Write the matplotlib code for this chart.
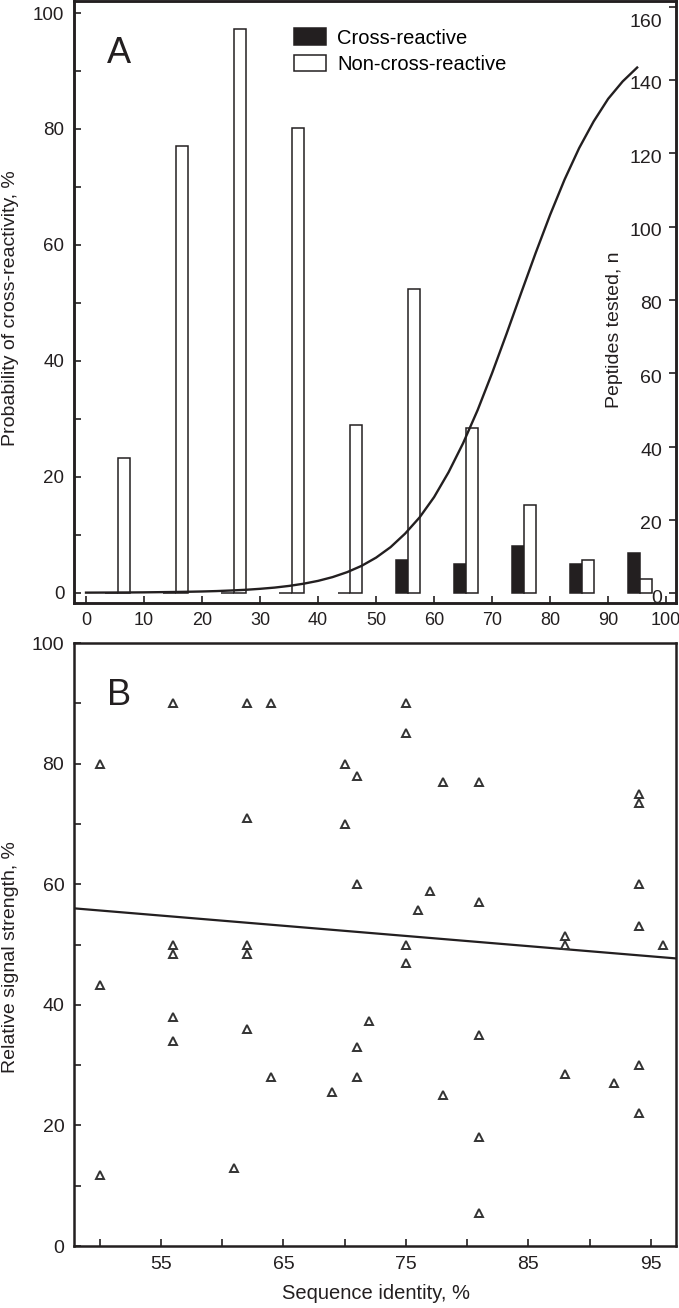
import matplotlib.pyplot as plt
import matplotlib.transforms as mtransforms
from matplotlib.patches import Patch
from matplotlib.ticker import MultipleLocator

plt.rcParams['font.family'] = ['Liberation Sans', 'DejaVu Sans']
INK = '#231f20'

# panel A: peptides tested per sequence-identity bin (right axis)
bin_start = [0, 10, 20, 30, 40, 50, 60, 70, 80, 90]
cross_reactive = [0, 0, 0, 0, 0, 9, 8, 13, 8, 11]
non_cross_reactive = [37, 122, 154, 127, 46, 83, 45, 24, 9, 4]

# panel A: probability curve (left axis)
curve_x = [0, 2.5, 5, 7.5, 10, 12.5, 15, 17.5, 20, 22.5, 25, 27.5, 30, 32.5,
           35, 37.5, 40, 42.5, 45, 47.5, 50, 52.5, 55, 57.5, 60, 62.5, 65,
           67.5, 70, 72.5, 75, 77.5, 80, 82.5, 85, 87.5, 90, 92.5, 95]
curve_y = [0.02, 0.03, 0.04, 0.05, 0.07, 0.1, 0.13, 0.17, 0.22, 0.29, 0.39,
           0.51, 0.68, 0.89, 1.18, 1.56, 2.05, 2.7, 3.55, 4.64, 6.06, 7.87,
           10.2, 13.0, 16.5, 20.8, 25.8, 31.5, 37.9, 44.7, 51.7, 58.6, 65.2,
           71.3, 76.7, 81.3, 85.2, 88.2, 90.6]

# panel B: signal strength vs sequence identity
ident = [50, 50, 50,
         56, 56, 56, 56, 56,
         61,
         62, 62, 62, 62, 62,
         64, 64,
         69,
         70, 70,
         71, 71, 71, 71,
         72,
         75, 75, 75, 75,
         76, 77,
         78, 78,
         81, 81, 81, 81, 81,
         88, 88, 88,
         92,
         94, 94, 94, 94, 94, 94,
         96]
signal = [80, 43.3, 11.8,
          90, 50, 48.5, 38, 34,
          13,
          90, 71, 50, 48.5, 36,
          90, 28,
          25.5,
          80, 70,
          78, 60, 33, 28,
          37.3,
          90, 85, 50, 47,
          55.8, 58.8,
          77, 25,
          77, 57, 35, 18, 5.5,
          51.4, 50, 28.6,
          27,
          75, 73.5, 60, 53, 30, 22,
          50]
fit_x = [47.9, 97.0]
fit_y = [56.0, 47.7]

fig = plt.figure(figsize=(6.79, 13.08), dpi=100)

# ---------- panel A ----------
ax = fig.add_axes([0.109, 0.5392, 0.8866, 0.4600])
ax2 = ax.twinx()
ax.set_zorder(ax2.get_zorder() + 1)
ax.patch.set_visible(False)

w = 2.1
ax2.bar([b + 4.4 for b in bin_start], cross_reactive, width=w,
        color=INK, edgecolor=INK, linewidth=1.1)
ax2.bar([b + 6.5 for b in bin_start], non_cross_reactive, width=w,
        color='white', edgecolor=INK, linewidth=1.1)
ax.plot(curve_x, curve_y, color=INK, linewidth=1.7)

ax.set_xlim(-2.07, 101.7)
ax.set_ylim(-1.72, 102.07)
ax2.set_ylim(-2.56, 161.5)
ax.set_xticks(range(0, 101, 10))
ax.set_yticks(range(0, 101, 20))
ax.yaxis.set_minor_locator(MultipleLocator(10))
ax2.set_yticks(range(0, 161, 20))

ax.tick_params(which='both', direction='in', length=5, width=1.2,
               labelsize=13.5, pad=7, colors=INK)
ax.tick_params(axis='x', labelsize=13)
ax2.tick_params(axis='y', direction='in', length=5, width=1.2,
                labelsize=14, pad=-10, colors=INK)
for t in ax2.get_yticklabels():
    t.set_ha('right')
    shift = -14 if t.get_text() == '160' else -3
    t.set_transform(t.get_transform() +
                    mtransforms.ScaledTranslation(0, shift / 100, fig.dpi_scale_trans))

for a in (ax, ax2):
    for s in a.spines.values():
        s.set_linewidth(1.8)
        s.set_color(INK)

ax.set_ylabel('Probability of cross-reactivity, %', fontsize=14, color=INK, va='center')
ax.yaxis.set_label_coords(-0.105, 0.49)
ax2.set_ylabel('Peptides tested, n', fontsize=14, color=INK, va='center')
ax2.yaxis.set_label_coords(0.898, 0.453)

ax.text(0.055, 0.897, 'A', transform=ax.transAxes, fontsize=26,
        color=INK, va='baseline', ha='left')

handles = [Patch(facecolor=INK, edgecolor=INK, linewidth=1.1),
           Patch(facecolor='white', edgecolor=INK, linewidth=1.1)]
ax.legend(handles, ['Cross-reactive', 'Non-cross-reactive'], loc='upper left',
          bbox_to_anchor=(0.352, 0.968), frameon=False, fontsize=14.5,
          handlelength=1.6, handleheight=0.9, handletextpad=0.55,
          labelspacing=0.35, borderaxespad=0)

# ---------- panel B ----------
bx = fig.add_axes([0.109, 0.0474, 0.8866, 0.4610])
bx.plot(fit_x, fit_y, color=INK, linewidth=1.6)
bx.plot(ident, signal, linestyle='none', marker='^', markersize=6,
        markerfacecolor='white', markeredgecolor='#333333', markeredgewidth=1.4)

bx.set_xlim(47.91, 97.04)
bx.set_ylim(0, 100)
xt = list(range(50, 100, 5))
bx.set_xticks(xt)
bx.set_xticklabels([str(v) if v % 10 == 5 else '' for v in xt])
bx.set_yticks(range(0, 101, 20))
bx.yaxis.set_minor_locator(MultipleLocator(10))
bx.tick_params(which='both', direction='in', length=5, width=1.2,
               labelsize=14, pad=7, colors=INK)
for s in bx.spines.values():
    s.set_linewidth(1.8)
    s.set_color(INK)

bx.set_ylabel('Relative signal strength, %', fontsize=14, color=INK, va='center')
bx.yaxis.set_label_coords(-0.105, 0.48)
bx.set_xlabel('Sequence identity, %', fontsize=14.5, color=INK, va='center')
bx.xaxis.set_label_coords(0.502, -0.078)

bx.text(0.055, 0.897, 'B', transform=bx.transAxes, fontsize=26,
        color=INK, va='baseline', ha='left')

fig.savefig('out.png', dpi=100)
